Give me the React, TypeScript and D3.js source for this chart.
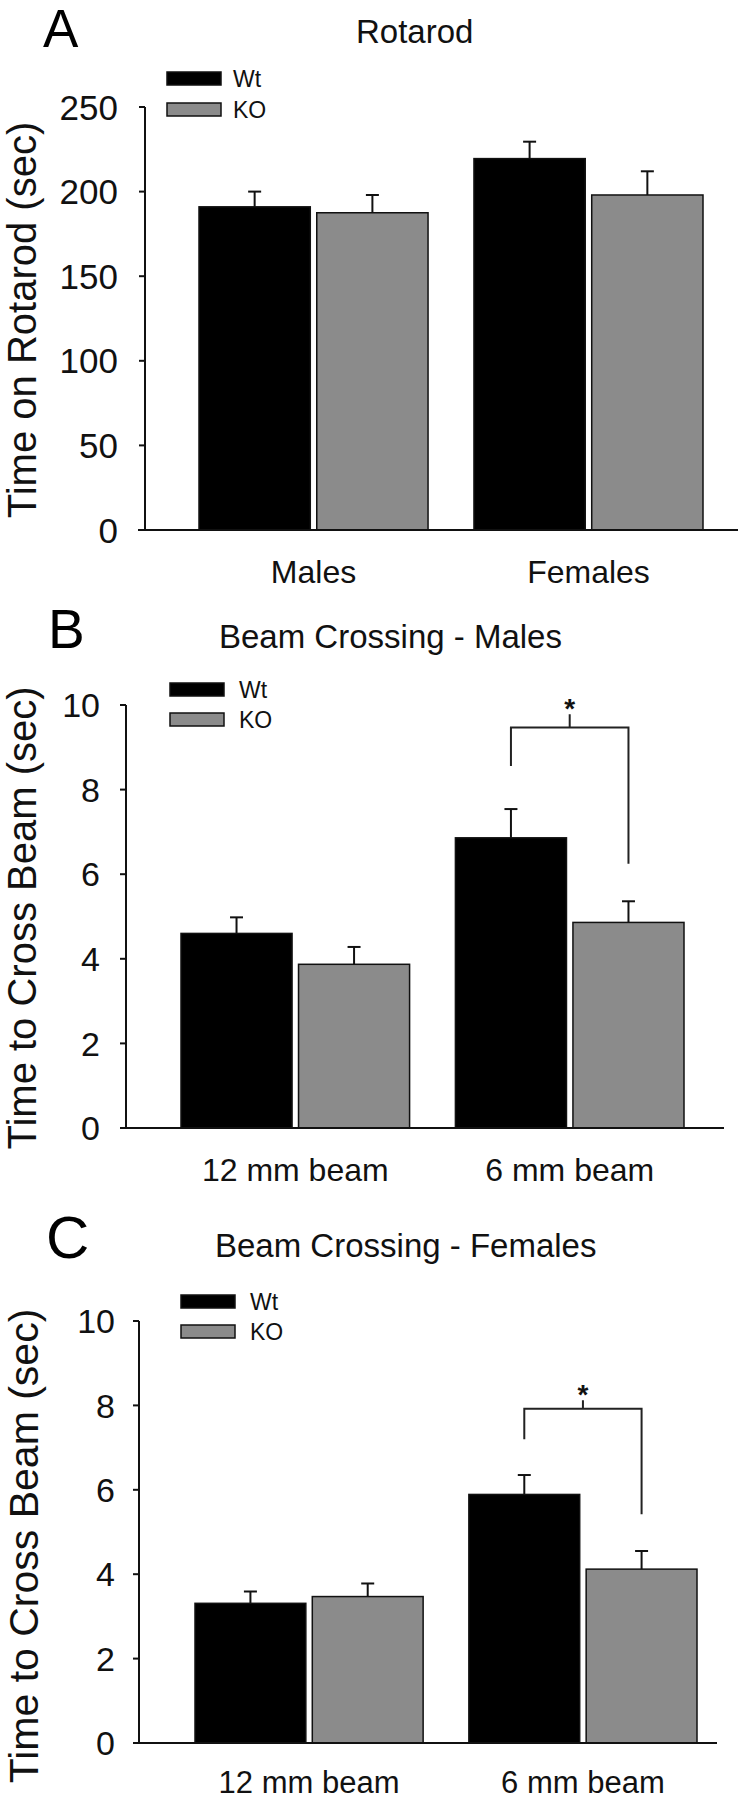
import React from "react";
import * as d3 from "d3";

// ---------- data ----------
const seriesNames = ["Wt", "KO"];

const rotarodGroups = ["Males", "Females"];
const rotarodWt = [191, 219.5];
const rotarodWtErr = [9, 10];
const rotarodKo = [187.5, 198];
const rotarodKoErr = [10.5, 14];
const rotarodTicks = [0, 50, 100, 150, 200, 250];

const beamGroups = ["12 mm beam", "6 mm beam"];
const malesWt = [4.6, 6.86];
const malesWtErr = [0.38, 0.68];
const malesKo = [3.87, 4.86];
const malesKoErr = [0.41, 0.5];

const femalesWt = [3.31, 5.89];
const femalesWtErr = [0.28, 0.46];
const femalesKo = [3.47, 4.12];
const femalesKoErr = [0.31, 0.43];

const beamTicks = [0, 2, 4, 6, 8, 10];

// significance brackets: [bar level, left leg end, right leg end, tick top]
const malesBracket = [9.47, 8.56, 6.25, 9.78];
const femalesBracket = [7.92, 7.2, 5.42, 8.12];

const FONT = "'Liberation Sans', Arial, Helvetica, sans-serif";
const KO_FILL = "#8b8b8b";

type PanelCfg = {
  letter: string;
  letterX: number;
  letterY: number;
  letterSize: number;
  title: string;
  titleX: number;
  titleY: number;
  titleSize: number;
  yTitle: string;
  yTitleX: number;
  yTitleCY: number;
  yTitleSize: number;
  groups: string[];
  wt: number[];
  wtErr: number[];
  ko: number[];
  koErr: number[];
  ticks: number[];
  yMax: number;
  y0: number;
  yTop: number;
  axisX: number;
  xRange: [number, number];
  axisLineX: [number, number];
  tickSize: number;
  labelGap: number;
  tickFont: number;
  legendX: number;
  legendY: number;
  legendGap: number;
  legendTextX: number;
  xLabelSize: number;
  xLabelOffset: number;
  bracket?: number[];
};

function Panel({ cfg }: { cfg: PanelCfg }) {
  const x0 = d3
    .scaleBand<string>()
    .domain(cfg.groups)
    .range(cfg.xRange)
    .paddingInner(0.167)
    .paddingOuter(0);
  const x1 = d3
    .scaleBand<string>()
    .domain(seriesNames)
    .range([0, x0.bandwidth()])
    .paddingInner(0.055);
  const y = d3.scaleLinear().domain([0, cfg.yMax]).range([cfg.y0, cfg.yTop]);

  const rows = cfg.groups.flatMap((g, i) => [
    { g, s: "Wt", v: cfg.wt[i], e: cfg.wtErr[i] },
    { g, s: "KO", v: cfg.ko[i], e: cfg.koErr[i] },
  ]);

  const barCenter = (g: string, s: string) =>
    (x0(g) ?? 0) + (x1(s) ?? 0) + x1.bandwidth() / 2;

  let bracketEl: React.ReactNode = null;
  if (cfg.bracket) {
    const g = cfg.groups[1];
    const xl = barCenter(g, "Wt");
    const xr = barCenter(g, "KO");
    const xm = (xl + xr) / 2;
    const [lvl, le, re, tt] = cfg.bracket;
    const path = d3.path();
    path.moveTo(xl, y(le));
    path.lineTo(xl, y(lvl));
    path.lineTo(xr, y(lvl));
    path.lineTo(xr, y(re));
    path.moveTo(xm, y(lvl));
    path.lineTo(xm, y(tt));
    bracketEl = (
      <g>
        <path d={path.toString()} fill="none" stroke="#222" strokeWidth={2} />
        <text
          x={xm}
          y={y(tt) + 4}
          textAnchor="middle"
          fontSize={28}
          fontWeight="bold"
          fontFamily={FONT}
          fill="#111"
        >
          *
        </text>
      </g>
    );
  }

  return (
    <g>
      <text x={cfg.letterX} y={cfg.letterY} fontSize={cfg.letterSize} fontFamily={FONT} fill="#000">
        {cfg.letter}
      </text>
      <text x={cfg.titleX} y={cfg.titleY} fontSize={cfg.titleSize} fontFamily={FONT} fill="#111">
        {cfg.title}
      </text>
      <text
        transform={`translate(${cfg.yTitleX},${cfg.yTitleCY}) rotate(-90)`}
        textAnchor="middle"
        fontSize={cfg.yTitleSize}
        fontFamily={FONT}
        fill="#111"
      >
        {cfg.yTitle}
      </text>

      {/* legend */}
      {seriesNames.map((s, i) => (
        <g key={s}>
          <rect
            x={cfg.legendX}
            y={cfg.legendY + i * cfg.legendGap}
            width={54}
            height={13}
            fill={s === "Wt" ? "#000" : KO_FILL}
            stroke="#111"
            strokeWidth={1.5}
          />
          <text
            x={cfg.legendTextX}
            y={cfg.legendY + i * cfg.legendGap + 15}
            fontSize={23}
            fontFamily={FONT}
            fill="#111"
          >
            {s}
          </text>
        </g>
      ))}

      {/* bars */}
      {rows.map((r) => {
        const bx = (x0(r.g) ?? 0) + (x1(r.s) ?? 0);
        const cx = bx + x1.bandwidth() / 2;
        return (
          <g key={r.g + r.s}>
            <line x1={cx} x2={cx} y1={y(r.v)} y2={y(r.v + r.e)} stroke="#111" strokeWidth={2} />
            <line
              x1={cx - 6.5}
              x2={cx + 6.5}
              y1={y(r.v + r.e)}
              y2={y(r.v + r.e)}
              stroke="#111"
              strokeWidth={2}
            />
            <rect
              x={bx}
              y={y(r.v)}
              width={x1.bandwidth()}
              height={cfg.y0 - y(r.v)}
              fill={r.s === "Wt" ? "#000" : KO_FILL}
              stroke="#111"
              strokeWidth={1.5}
            />
          </g>
        );
      })}

      {bracketEl}

      {/* y axis */}
      <line x1={cfg.axisX} x2={cfg.axisX} y1={y(cfg.yMax)} y2={cfg.y0} stroke="#111" strokeWidth={2} />
      {cfg.ticks.map((t) => (
        <g key={t}>
          <line
            x1={cfg.axisX - cfg.tickSize}
            x2={cfg.axisX}
            y1={y(t)}
            y2={y(t)}
            stroke="#111"
            strokeWidth={2}
          />
          <text
            x={cfg.axisX - cfg.tickSize - cfg.labelGap}
            y={y(t)}
            dy="0.36em"
            textAnchor="end"
            fontSize={cfg.tickFont}
            fontFamily={FONT}
            fill="#111"
          >
            {t}
          </text>
        </g>
      ))}

      {/* x axis */}
      <line
        x1={cfg.axisLineX[0]}
        x2={cfg.axisLineX[1]}
        y1={cfg.y0}
        y2={cfg.y0}
        stroke="#111"
        strokeWidth={2}
      />
      {cfg.groups.map((g) => (
        <text
          key={g}
          x={(x0(g) ?? 0) + x0.bandwidth() / 2}
          y={cfg.y0 + cfg.xLabelOffset}
          textAnchor="middle"
          fontSize={cfg.xLabelSize}
          fontFamily={FONT}
          fill="#111"
        >
          {g}
        </text>
      ))}
    </g>
  );
}

const panels: PanelCfg[] = [
  {
    letter: "A",
    letterX: 43,
    letterY: 47,
    letterSize: 53,
    title: "Rotarod",
    titleX: 356,
    titleY: 43,
    titleSize: 33,
    yTitle: "Time on Rotarod (sec)",
    yTitleX: 36,
    yTitleCY: 320,
    yTitleSize: 40,
    groups: rotarodGroups,
    wt: rotarodWt,
    wtErr: rotarodWtErr,
    ko: rotarodKo,
    koErr: rotarodKoErr,
    ticks: rotarodTicks,
    yMax: 250,
    y0: 530,
    yTop: 107,
    axisX: 145,
    xRange: [199, 703],
    axisLineX: [138, 738],
    tickSize: 6,
    labelGap: 21,
    tickFont: 35,
    legendX: 167,
    legendY: 72,
    legendGap: 31,
    legendTextX: 233,
    xLabelSize: 32,
    xLabelOffset: 53,
  },
  {
    letter: "B",
    letterX: 48,
    letterY: 648,
    letterSize: 55,
    title: "Beam Crossing - Males",
    titleX: 219,
    titleY: 648,
    titleSize: 33,
    yTitle: "Time to Cross Beam (sec)",
    yTitleX: 36,
    yTitleCY: 918,
    yTitleSize: 40,
    groups: beamGroups,
    wt: malesWt,
    wtErr: malesWtErr,
    ko: malesKo,
    koErr: malesKoErr,
    ticks: beamTicks,
    yMax: 10,
    y0: 1128,
    yTop: 705,
    axisX: 126,
    xRange: [181, 684],
    axisLineX: [120, 724],
    tickSize: 6,
    labelGap: 20,
    tickFont: 34,
    legendX: 170,
    legendY: 683,
    legendGap: 30,
    legendTextX: 239,
    xLabelSize: 32,
    xLabelOffset: 53,
    bracket: malesBracket,
  },
  {
    letter: "C",
    letterX: 46,
    letterY: 1258,
    letterSize: 60,
    title: "Beam Crossing - Females",
    titleX: 215,
    titleY: 1257,
    titleSize: 33,
    yTitle: "Time to Cross Beam (sec)",
    yTitleX: 38,
    yTitleCY: 1546,
    yTitleSize: 41,
    groups: beamGroups,
    wt: femalesWt,
    wtErr: femalesWtErr,
    ko: femalesKo,
    koErr: femalesKoErr,
    ticks: beamTicks,
    yMax: 10,
    y0: 1743,
    yTop: 1321,
    axisX: 139,
    xRange: [195, 697],
    axisLineX: [133, 717],
    tickSize: 6,
    labelGap: 18,
    tickFont: 34,
    legendX: 181,
    legendY: 1295,
    legendGap: 30,
    legendTextX: 250,
    xLabelSize: 31,
    xLabelOffset: 50,
    bracket: femalesBracket,
  },
];

export default function App() {
  return (
    <svg
      width={740}
      height={1800}
      viewBox="0 0 740 1800"
      style={{ position: "absolute", left: 0, top: 0, background: "#fff" }}
    >
      <rect x={0} y={0} width={740} height={1800} fill="#fff" />
      {panels.map((p) => (
        <Panel key={p.letter} cfg={p} />
      ))}
    </svg>
  );
}
